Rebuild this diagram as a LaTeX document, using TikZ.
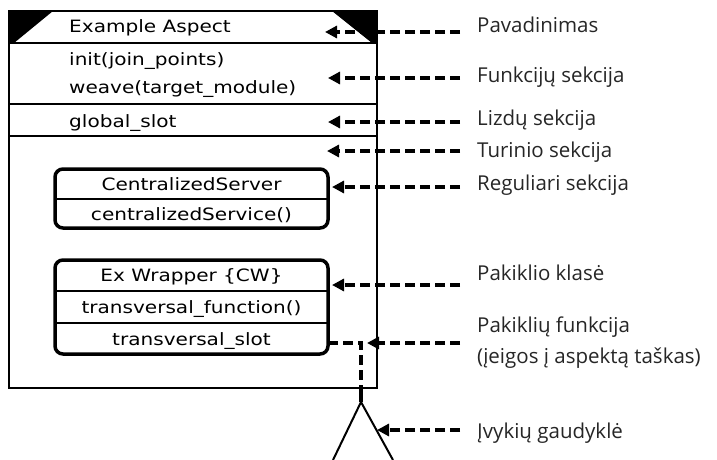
\documentclass[tikz,border=0pt]{standalone}
\usepackage{fontspec}
\setmainfont{Open Sans}
\newfontfamily\umlfont[FakeStretch=1.18]{DejaVu Sans}
\usetikzlibrary{arrows.meta, calc}

\begin{document}
\begin{tikzpicture}[x=1pt, y=-1pt,
        uml/.style={font=\umlfont\fontsize{17}{20}\selectfont, inner sep=0pt},
        part/.style={draw, rounded corners=8pt, line width=3.5pt, minimum width=273pt, inner sep=0pt, outer sep=0pt},
        sep/.style={line width=1.5pt},
        note/.style={font=\fontsize{20.5}{31}\selectfont, text=black!85, anchor=base west, inner sep=0pt, align=left},
        link/.style={line width=3.2pt, dash pattern=on 10pt off 5pt},
        pin/.style={link, -{Triangle[length=12pt, width=12pt]}}]
    \useasboundingbox (0,0) rectangle (717,460);

    % aspect frame
    \node[draw, line width=1.5pt, minimum width=368pt, minimum height=377pt, inner sep=0pt, outer sep=0pt] (aspect) at (193,199.5) {};
    \fill (9,11) -- (53,11) -- (14,43) -- (9,43) -- cycle;
    \fill (332,11) -- (377,11) -- (377,43) -- (372,43) -- cycle;
    \draw[sep] (aspect.west |- 0,43) -- (aspect.east |- 0,43);
    \draw[sep] (aspect.west |- 0,104) -- (aspect.east |- 0,104);
    \draw[sep] (aspect.west |- 0,136) -- (aspect.east |- 0,136);

    \node[uml, anchor=base west] (aspName) at (69,33) {Example Aspect};
    \node[uml, anchor=base west] (initFn) at (69,66) {init(join\_points)};
    \node[uml, anchor=base west] (weaveFn) at (69,93) {weave(target\_module)};
    \node[uml, anchor=base west] (globSlot) at (69,127) {global\_slot};

    % regular part
    \node[part, minimum height=59pt] (server) at (191.5,198.5) {};
    \draw[sep] (server.west |- 0,199) -- (server.east |- 0,199);
    \node[uml, anchor=base] (srvName) at (191.5,190) {CentralizedServer};
    \node[uml, anchor=base] (srvFn) at (191.5,220) {centralizedService()};

    % wrapper part
    \node[part, minimum height=94pt] (wrapper) at (191.5,307) {};
    \draw[sep] (wrapper.west |- 0,291) -- (wrapper.east |- 0,291);
    \draw[sep] (wrapper.west |- 0,323) -- (wrapper.east |- 0,323);
    \node[uml, anchor=base] (wrpName) at (191.5,281.5) {Ex Wrapper \{CW\}};
    \node[uml, anchor=base] (wrpFn) at (191.5,313) {transversal\_function()};
    \node[uml, anchor=base] (wrpSlot) at (191.5,345) {transversal\_slot};

    % event catcher
    \coordinate (bend) at (361,343);
    \coordinate (catch) at (361,402);
    \draw[link] (wrapper.east |- bend) -- (bend) -- (aspect.south -| bend);
    \draw[line width=3.2pt] (aspect.south -| bend) -- (catch);
    \draw[line width=2pt] (333,460) -- (catch) -- (393,460);

    % notes
    \coordinate (tName) at (325,32);
    \coordinate (tFn) at (328,78);
    \coordinate (tSlot) at (328,122);
    \coordinate (tBody) at (327,151);
    \coordinate (tPart) at (332,187);
    \coordinate (tWrap) at (332,285);
    \coordinate (tHook) at (367,343);
    \coordinate (tCatch) at (377,430);

    \node[note] (lName) at (477,33) {Pavadinimas};
    \node[note] (lFn) at (477,82) {Funkcijų sekcija};
    \node[note] (lSlot) at (477,125) {Lizdų sekcija};
    \node[note] (lBody) at (477,157) {Turinio sekcija};
    \node[note] (lPart) at (477,190) {Reguliari sekcija};
    \node[note] (lWrap) at (477,280) {Pakiklio klasė};
    \node[note] (lHook) at (477,363) {Pakiklių funkcija\\(įeigos į aspektą taškas)};
    \node[note] (lCatch) at (477,438) {Įvykių gaudyklė};

    \draw[pin] ($(lName.west |- tName)+(-17,0)$) -- (tName);
    \draw[pin] ($(lFn.west |- tFn)+(-17,0)$) -- (tFn);
    \draw[pin] ($(lSlot.west |- tSlot)+(-17,0)$) -- (tSlot);
    \draw[pin] ($(lBody.west |- tBody)+(-17,0)$) -- (tBody);
    \draw[pin] ($(lPart.west |- tPart)+(-17,0)$) -- (tPart);
    \draw[pin] ($(lWrap.west |- tWrap)+(-17,0)$) -- (tWrap);
    \draw[pin] ($(lHook.west |- tHook)+(-17,0)$) -- (tHook);
    \draw[pin] ($(lCatch.west |- tCatch)+(-17,0)$) -- (tCatch);
\end{tikzpicture}
\end{document}
